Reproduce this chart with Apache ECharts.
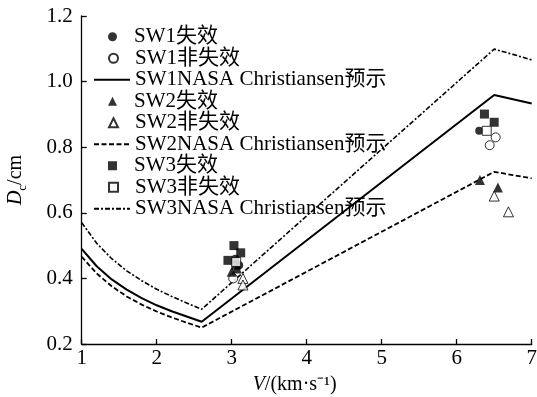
<!DOCTYPE html>
<html>
<head>
<meta charset="utf-8">
<script src="https://cdn.jsdelivr.net/npm/echarts@6/dist/echarts.min.js"></script>
<style>html,body{margin:0;padding:0;background:#fff;}#c{width:537px;height:397px;}</style>
</head>
<body>
<div id="c"></div>
<script>
// Prediction curves (NASA Christiansen), velocity in km/s, Dc in cm
var lineV   = [1, 1.2, 1.4, 1.6, 1.8, 2.0, 2.2, 2.4, 2.6, 6.5, 6.75, 7];
var sw1Pred = [0.49, 0.437, 0.397, 0.366, 0.340, 0.318, 0.300, 0.284, 0.268, 0.959, 0.946, 0.933];
var sw2Pred = [0.466, 0.415, 0.376, 0.345, 0.320, 0.299, 0.281, 0.265, 0.250, 0.725, 0.715, 0.705];
var sw3Pred = [0.57, 0.507, 0.46, 0.423, 0.393, 0.367, 0.345, 0.325, 0.306, 1.099, 1.083, 1.066];

// Test points [V, Dc]
var sw1Fail   = [[3.05, 0.46], [3.10, 0.44], [6.30, 0.85]];
var sw1NoFail = [[3.02, 0.40], [6.52, 0.83], [6.44, 0.806]];
var sw2Fail   = [[3.00, 0.42], [3.07, 0.43], [6.31, 0.70], [6.55, 0.677]];
var sw2NoFail = [[3.15, 0.40], [3.15, 0.38], [6.50, 0.651], [6.69, 0.603]];
var sw3Fail   = [[3.03, 0.50], [3.12, 0.478], [2.95, 0.455], [3.06, 0.44], [6.37, 0.901], [6.50, 0.876]];
var sw3NoFail = [[3.06, 0.45], [6.40, 0.85]];

var seriesNames = ['SW1失效','SW1非失效','SW1NASA Christiansen预示','SW2失效','SW2非失效','SW2NASA Christiansen预示','SW3失效','SW3非失效','SW3NASA Christiansen预示'];
var lineNames = [seriesNames[2], seriesNames[5], seriesNames[8]];

var xMin = 1, xMax = 7, xStep = 1;
var yMin = 0.2, yMax = 1.2, yStep = 0.2;

function pairs(xs, ys){ return xs.map(function(x,i){ return [x, ys[i]]; }); }

var serif = "'Liberation Serif','Times New Roman','Noto Sans CJK SC',serif";
var black = '#000';

function lineSeries(name, ys, type, width){
  return {name:name, type:'line', data:pairs(lineV, ys), symbol:'none', showSymbol:false,
    lineStyle:{color:black, width:width, type:type}, itemStyle:{color:black}, z:2, animation:false};
}
function scatterSeries(name, data, symbol, size, filled){
  return {name:name, type:'scatter', data:data, symbol:symbol, symbolSize:size, symbolKeepAspect:true,
    itemStyle:{color: filled ? black : '#fff', borderColor:black, borderWidth: filled ? 0 : 1},
    z:3, animation:false};
}

// one legend component per row so line samples and markers keep their own widths
var legendTop = 26, legendRow = 21.5;
var legends = seriesNames.map(function(n, i){
  var isLine = lineNames.indexOf(n) >= 0;
  return {
    orient:'vertical', padding:0, itemGap:0,
    left: isLine ? 93 : 108,
    top: legendTop + i * legendRow,
    itemWidth: isLine ? 36 : 9, itemHeight: 9,
    textStyle:{fontFamily:serif, fontSize:21, color:black, lineHeight:21.5,
      padding: isLine ? 0 : [0,0,0,12]},
    data:[isLine ? {name:n, itemStyle:{opacity:0}} : {name:n}],
    selectedMode:false
  };
});

var chart = echarts.init(document.getElementById('c'), null, {renderer:'canvas'});
chart.setOption({
  animation:false,
  backgroundColor:'#fff',
  grid:{left:81.7, right:5.3, top:16, bottom:53, containLabel:false, outerBoundsMode:'none'},
  legend:legends,
  xAxis:{
    type:'value', min:xMin, max:xMax, interval:xStep,
    name:'{i|V}/(km·s⁻¹)', nameLocation:'middle', nameGap:31,
    nameTextStyle:{fontFamily:serif, fontSize:20, color:black, padding:[0,24,0,0],
      rich:{i:{fontFamily:serif, fontSize:20, fontStyle:'italic', color:black}}},
    axisLine:{show:true, lineStyle:{color:black, width:1.3}},
    axisTick:{show:true, inside:true, length:5, lineStyle:{color:black, width:1.3}},
    axisLabel:{fontFamily:serif, fontSize:21, color:black, margin:4},
    splitLine:{show:false}
  },
  yAxis:{
    type:'value', min:yMin, max:yMax, interval:yStep,
    name:'{i|D}{sub|c}/cm', nameLocation:'middle', nameRotate:90, nameGap:53,
    nameTextStyle:{fontFamily:serif, fontSize:20, color:black, lineHeight:26,
      rich:{
        i:{fontFamily:serif, fontSize:20, fontStyle:'italic', color:black, lineHeight:26},
        sub:{fontFamily:serif, fontSize:13, color:black, lineHeight:12, verticalAlign:'bottom'}
      }},
    axisLine:{show:true, lineStyle:{color:black, width:1.3}},
    axisTick:{show:true, inside:true, length:5, lineStyle:{color:black, width:1.3}},
    axisLabel:{fontFamily:serif, fontSize:21, color:black, margin:9,
      formatter:function(v){ return v.toFixed(1); }},
    splitLine:{show:false}
  },
  series:[
    scatterSeries(seriesNames[0], sw1Fail, 'circle', 8, true),
    scatterSeries(seriesNames[1], sw1NoFail, 'circle', 9, false),
    lineSeries(seriesNames[2], sw1Pred, 'solid', 2),
    scatterSeries(seriesNames[3], sw2Fail, 'triangle', 10, true),
    scatterSeries(seriesNames[4], sw2NoFail, 'triangle', 10, false),
    lineSeries(seriesNames[5], sw2Pred, [5,2.5], 1.8),
    scatterSeries(seriesNames[6], sw3Fail, 'rect', 9, true),
    scatterSeries(seriesNames[7], sw3NoFail, 'rect', 9, false),
    lineSeries(seriesNames[8], sw3Pred, [5,2,2,2], 1.6)
  ]
});
</script>
</body>
</html>
